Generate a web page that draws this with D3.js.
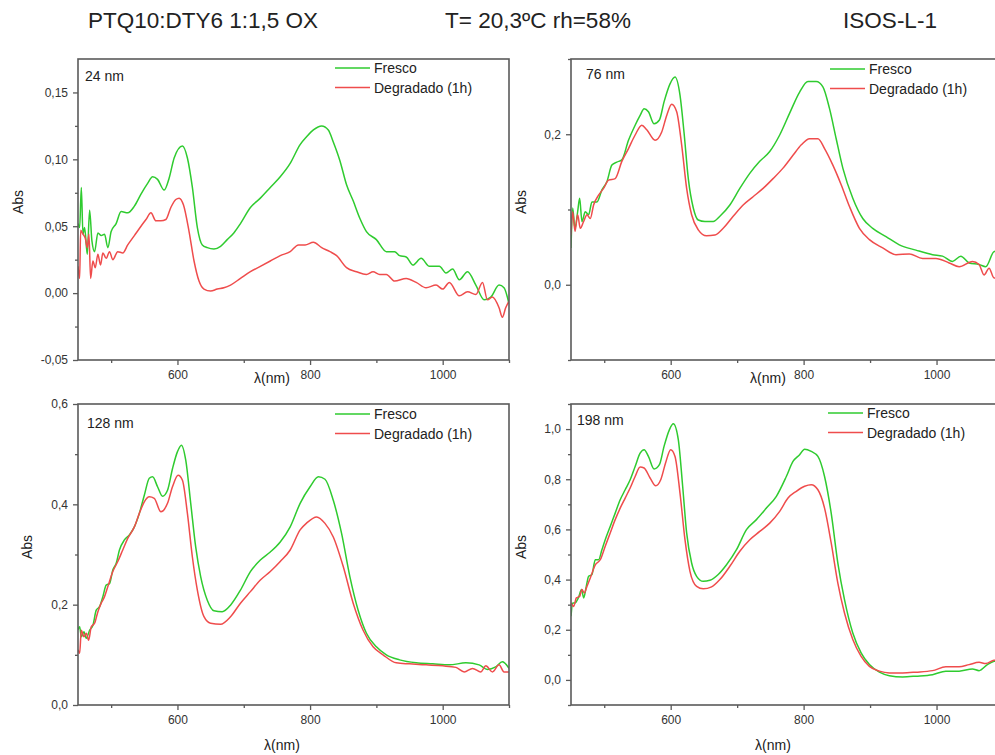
<!DOCTYPE html>
<html>
<head>
<meta charset="utf-8">
<script src="https://cdn.jsdelivr.net/npm/d3@7"></script>
<style>
  html, body { margin: 0; padding: 0; background: #fff; }
  svg { display: block; font-family: "Liberation Sans", Arial, sans-serif; }
</style>
</head>
<body>
<svg id="chart" width="995" height="755"></svg>
<script>
// UV-Vis absorbance spectra, fresh film vs. 1 h degraded, four thicknesses.

const titles = ["PTQ10:DTY6 1:1,5 OX", "T= 20,3ºC rh=58%", "ISOS-L-1"];
const seriesNames = ["Fresco", "Degradado (1h)"];
const thicknessLabels = ["24 nm", "76 nm", "128 nm", "198 nm"];
const xTicksMajor = [600, 800, 1000];
const xTicksMinor = [500, 700, 900, 1100];

// 24 nm
const lamFresco24 = [450,452.5,455,457.5,460,464,467.5,471,475,480,485,490,495,500,507.5,515,525,535,545,555,562.5,570,580,587.5,595,607.5,615,622.5,630,637.5,645,655,665,675,685,695,710,725,740,755,770,785,795,805,817.5,827.5,835,845,855,865,875,885,900,915,927.5,935,945,955,967.5,980,995,1005,1015,1025,1037.5,1050,1062.5,1072.5,1085,1092.5,1100];
const absFresco24 = [0.052,0.049,0.079,0.044,0.049,0.029,0.062,0.039,0.031,0.045,0.043,0.044,0.034,0.046,0.052,0.061,0.060,0.065,0.074,0.082,0.087,0.085,0.077,0.086,0.101,0.110,0.101,0.079,0.049,0.036,0.034,0.033,0.035,0.040,0.045,0.052,0.064,0.071,0.079,0.087,0.097,0.111,0.117,0.122,0.125,0.122,0.113,0.099,0.081,0.069,0.056,0.046,0.040,0.031,0.031,0.028,0.027,0.021,0.026,0.020,0.020,0.015,0.018,0.010,0.016,0.006,-0.005,-0.003,0.006,0.004,-0.008];
const lamDegr24 = [450,452.5,454,457.5,461,464,466.5,469,472.5,476,480,484,487.5,492.5,497.5,502.5,510,517.5,525,535,545,552.5,560,567.5,575,582.5,590,597.5,602.5,609,617.5,625,632.5,640,650,660,670,680,695,710,725,740,755,770,782.5,792.5,805,817.5,830,840,855,870,885,895,905,915,927.5,945,960,975,990,1000,1010,1025,1037.5,1050,1060,1067.5,1075,1085,1090,1095,1100];
const absDegr24 = [0.020,0.011,0.047,0.044,0.041,0.034,0.044,0.011,0.024,0.019,0.029,0.021,0.030,0.026,0.031,0.025,0.031,0.030,0.036,0.043,0.050,0.055,0.060,0.054,0.054,0.055,0.064,0.070,0.071,0.066,0.046,0.024,0.009,0.003,0.0015,0.003,0.004,0.006,0.011,0.016,0.020,0.024,0.028,0.031,0.036,0.036,0.038,0.034,0.031,0.028,0.019,0.016,0.014,0.016,0.014,0.014,0.009,0.011,0.008,0.004,0.006,0.003,0.008,-0.002,0.001,-0.001,0.008,-0.005,-0.003,-0.011,-0.018,-0.011,-0.006];

// 76 nm
const lamFresco76 = [450,452.5,456,460,463,466.5,471.5,476.5,481.5,489,496.5,504,511.5,519,526.5,536.5,546.5,554,560,566.5,575,583,590,599,606.5,614,620,626.5,634,641.5,651.5,664,674,689,704,719,734,749,764,779,794,806.5,819,829,839,849,859,874,889,904,924,944,969,994,1009,1024,1036.5,1049,1064,1074,1086.5,1100];
const absFresco76 = [0.049,0.102,0.075,0.097,0.115,0.084,0.097,0.093,0.110,0.110,0.126,0.137,0.159,0.163,0.166,0.192,0.212,0.225,0.234,0.230,0.214,0.219,0.243,0.267,0.276,0.252,0.203,0.141,0.102,0.086,0.084,0.084,0.091,0.106,0.128,0.148,0.164,0.177,0.199,0.228,0.256,0.270,0.270,0.263,0.234,0.194,0.155,0.115,0.088,0.075,0.064,0.053,0.046,0.040,0.038,0.031,0.038,0.029,0.027,0.024,0.044,0.046];
const lamDegr76 = [450,452.5,456,460,464,469,474,479,484,491.5,499,506.5,516.5,526.5,536.5,546.5,556.5,564,576.5,586.5,594,601.5,609,616.5,624,631.5,641.5,654,666.5,679,694,709,724,739,754,769,784,796.5,809,821.5,831.5,844,856.5,869,884,899,919,939,959,979,999,1019,1034,1054,1064,1071.5,1079,1086.5,1100];
const absDegr76 = [0.066,0.097,0.071,0.093,0.075,0.084,0.093,0.088,0.106,0.119,0.128,0.139,0.141,0.164,0.181,0.199,0.212,0.206,0.192,0.203,0.225,0.240,0.230,0.186,0.128,0.093,0.073,0.065,0.066,0.075,0.091,0.106,0.117,0.128,0.141,0.155,0.172,0.186,0.194,0.194,0.181,0.159,0.133,0.104,0.075,0.060,0.049,0.040,0.041,0.035,0.035,0.029,0.024,0.031,0.027,0.013,0.022,0.009,0.013];

// 128 nm
const lamFresco128 = [450,452.5,455,459,462.5,467.5,472.5,477.5,482.5,487.5,492.5,497.5,502.5,507.5,512.5,520,527.5,535,542.5,550,557.5,562.5,570,577.5,585,592.5,600,606,612.5,620,627.5,635,645,655,667.5,680,695,710,725,740,755,770,785,800,812.5,822.5,835,847.5,860,872.5,885,900,915,935,960,985,1010,1035,1055,1067.5,1080,1090,1100];
const absFresco128 = [0.150,0.156,0.136,0.146,0.133,0.149,0.159,0.189,0.196,0.216,0.239,0.242,0.269,0.282,0.309,0.329,0.339,0.355,0.382,0.418,0.452,0.455,0.435,0.416,0.428,0.471,0.505,0.518,0.488,0.402,0.315,0.256,0.209,0.188,0.186,0.199,0.229,0.266,0.289,0.305,0.325,0.355,0.402,0.435,0.455,0.450,0.408,0.342,0.256,0.189,0.143,0.116,0.100,0.090,0.084,0.082,0.080,0.084,0.080,0.071,0.076,0.086,0.073];
const lamDegr128 = [450,452.5,455,459,462.5,466,470,475,480,485,490,495,502.5,510,517.5,525,535,542.5,550,557.5,565,575,585,592.5,601,607.5,615,622.5,630,640,650,665,680,695,710,725,740,755,770,785,795,810,822.5,835,850,865,880,895,910,930,950,975,1000,1020,1032.5,1045,1057.5,1065,1075,1085,1092.5,1100];
const absDegr128 = [0.110,0.103,0.149,0.136,0.143,0.129,0.156,0.163,0.186,0.203,0.216,0.236,0.266,0.286,0.309,0.332,0.355,0.382,0.405,0.415,0.412,0.385,0.402,0.435,0.458,0.448,0.382,0.295,0.229,0.176,0.163,0.161,0.176,0.203,0.226,0.249,0.266,0.286,0.309,0.349,0.363,0.375,0.362,0.335,0.276,0.203,0.149,0.116,0.100,0.084,0.082,0.080,0.078,0.075,0.066,0.073,0.066,0.078,0.066,0.080,0.066,0.066];

// 198 nm
const lamFresco198 = [450,452.5,456,461,466,469,473,476.5,481.5,486.5,491.5,496.5,501.5,509,516.5,524,531.5,539,546.5,554,560,566.5,575,583,590,598,604,611.5,618,624,631.5,639,649,659,671.5,684,699,714,729,744,759,774,784,794,801.5,811.5,821.5,831.5,841.5,851.5,861.5,874,886.5,899,914,929,949,969,994,1014,1034,1054,1064,1076.5,1086.5,1100];
const absFresco198 = [0.254,0.307,0.307,0.327,0.360,0.327,0.373,0.413,0.420,0.479,0.479,0.519,0.559,0.612,0.665,0.718,0.758,0.798,0.851,0.904,0.918,0.891,0.841,0.858,0.931,0.997,1.021,0.957,0.772,0.586,0.466,0.413,0.393,0.397,0.420,0.459,0.519,0.599,0.639,0.685,0.732,0.811,0.871,0.898,0.920,0.911,0.891,0.811,0.665,0.466,0.320,0.187,0.108,0.061,0.031,0.017,0.012,0.015,0.021,0.035,0.035,0.044,0.037,0.061,0.074,0.078];
const lamDegr198 = [450,454,458,463,466.5,470,474,479,486.5,494,501.5,509,516.5,524,531.5,539,546.5,554,560,569,577.5,585,592.5,600,606.5,614,621.5,629,639,649,661.5,674,689,704,719,734,749,764,776.5,789,801.5,811.5,821.5,831.5,841.5,851.5,861.5,874,886.5,899,914,929,949,969,994,1014,1034,1049,1064,1074,1086.5,1100];
const absDegr198 = [0.307,0.293,0.327,0.333,0.360,0.347,0.373,0.406,0.459,0.479,0.533,0.586,0.639,0.685,0.725,0.765,0.811,0.849,0.845,0.805,0.774,0.798,0.867,0.918,0.891,0.745,0.559,0.433,0.373,0.363,0.371,0.400,0.453,0.513,0.559,0.592,0.625,0.672,0.725,0.752,0.772,0.778,0.758,0.685,0.546,0.386,0.267,0.161,0.094,0.054,0.035,0.028,0.028,0.031,0.037,0.052,0.052,0.061,0.070,0.065,0.078,0.080];

const colors = { fresco: "#2fcb2f", degr: "#ef4c4c" };
const frameColor = "#5a5a5a";
const textColor = "#222";

const fmt2 = v => d3.format(".2f")(v).replace(".", ",").replace("−", "-");
const fmt1 = v => d3.format(".1f")(v).replace(".", ",").replace("−", "-");

// Panel layout and per-panel axis settings
const panels = [
  { x0: 78, x1: 509, y0: 59, y1: 360, yDomain: [-0.05, 0.175],
    yMajor: [-0.05, 0, 0.05, 0.10, 0.15], yMinor: [-0.025, 0.025, 0.075, 0.125],
    fmt: fmt2, lam: [lamFresco24, lamDegr24], abs: [absFresco24, absDegr24],
    label: thicknessLabels[0], labelPos: [7, 22], absPos: [18, 202], lamPos: [272, 383],
    legendDx: 257, legendDy: 9 },
  { x0: 571, x1: 1003, y0: 59, y1: 360, yDomain: [-0.1, 0.3],
    yMajor: [0, 0.2], yMinor: [-0.1, 0.1, 0.3],
    fmt: fmt1, lam: [lamFresco76, lamDegr76], abs: [absFresco76, absDegr76],
    label: thicknessLabels[1], labelPos: [15, 20], absPos: [521, 202], lamPos: [768, 383],
    legendDx: 259, legendDy: 10 },
  { x0: 78, x1: 509, y0: 404, y1: 705, yDomain: [0, 0.6],
    yMajor: [0, 0.2, 0.4, 0.6], yMinor: [0.1, 0.3, 0.5],
    fmt: fmt1, lam: [lamFresco128, lamDegr128], abs: [absFresco128, absDegr128],
    label: thicknessLabels[2], labelPos: [9, 24], absPos: [27, 547], lamPos: [282, 750],
    legendDx: 257, legendDy: 10 },
  { x0: 571, x1: 1003, y0: 404, y1: 705, yDomain: [-0.1, 1.1],
    yMajor: [0, 0.2, 0.4, 0.6, 0.8, 1.0], yMinor: [-0.1, 0.1, 0.3, 0.5, 0.7, 0.9, 1.1],
    fmt: fmt1, lam: [lamFresco198, lamDegr198], abs: [absFresco198, absDegr198],
    label: thicknessLabels[3], labelPos: [6, 21], absPos: [521, 547], lamPos: [773, 750],
    legendDx: 257, legendDy: 9 }
];

const svg = d3.select("#chart");

// Header (centred on each heading's slot)
const titleCx = [203, 538, 890];
titles.forEach((t, i) => {
  svg.append("text").attr("x", titleCx[i]).attr("y", 28)
    .attr("text-anchor", "middle")
    .attr("font-size", 22.5).attr("fill", textColor).text(t);
});

panels.forEach((p, idx) => {
  const x = d3.scaleLinear().domain([450, 1100]).range([p.x0, p.x1]);
  const y = d3.scaleLinear().domain(p.yDomain).range([p.y1, p.y0]);
  const g = svg.append("g");

  const clipId = "clip" + idx;
  g.append("clipPath").attr("id", clipId).append("rect")
    .attr("x", p.x0).attr("y", p.y0).attr("width", p.x1 - p.x0).attr("height", p.y1 - p.y0);

  // spectra
  const line = d3.line().x(d => x(d[0])).y(d => y(d[1])).curve(d3.curveMonotoneX);
  const seriesColors = [colors.fresco, colors.degr];
  [0, 1].forEach(s => {
    const pts = p.lam[s].map((l, i) => [l, p.abs[s][i]]);
    g.append("path").datum(pts)
      .attr("clip-path", `url(#${clipId})`)
      .attr("d", line).attr("fill", "none")
      .attr("stroke", seriesColors[s]).attr("stroke-width", 1.5)
      .attr("stroke-linejoin", "round");
  });

  // frame
  g.append("rect").attr("x", p.x0).attr("y", p.y0)
    .attr("width", p.x1 - p.x0).attr("height", p.y1 - p.y0)
    .attr("fill", "none").attr("stroke", frameColor).attr("stroke-width", 1.6);

  // bottom axis
  const xAxis = g.append("g").attr("transform", `translate(0,${p.y1})`)
    .call(d3.axisBottom(x).tickValues(xTicksMajor).tickSize(5).tickPadding(5).tickFormat(d3.format("d")));
  const xMinor = g.append("g").attr("transform", `translate(0,${p.y1})`)
    .call(d3.axisBottom(x).tickValues(xTicksMinor).tickSize(3).tickFormat(""));

  // left axis
  const yAxis = g.append("g").attr("transform", `translate(${p.x0},0)`)
    .call(d3.axisLeft(y).tickValues(p.yMajor).tickSize(5).tickPadding(5).tickFormat(p.fmt));
  const yMinor = g.append("g").attr("transform", `translate(${p.x0},0)`)
    .call(d3.axisLeft(y).tickValues(p.yMinor).tickSize(3).tickFormat(""));

  [xAxis, xMinor, yAxis, yMinor].forEach(a => {
    a.select(".domain").remove();
    a.selectAll("line").attr("stroke", frameColor).attr("stroke-width", 1.3);
    a.selectAll("text").attr("font-size", 12).attr("fill", "#333")
      .attr("font-family", "'Liberation Sans', Arial, sans-serif");
  });

  // thickness label
  g.append("text").attr("x", p.x0 + p.labelPos[0]).attr("y", p.y0 + p.labelPos[1])
    .attr("font-size", 14).attr("fill", textColor).text(p.label);

  // legend
  seriesNames.forEach((name, s) => {
    const ly = p.y0 + p.legendDy + s * 19.5;
    g.append("line").attr("x1", p.x0 + p.legendDx).attr("x2", p.x0 + p.legendDx + 35)
      .attr("y1", ly).attr("y2", ly)
      .attr("stroke", seriesColors[s]).attr("stroke-width", 1.5);
    g.append("text").attr("x", p.x0 + p.legendDx + 39).attr("y", ly + 5)
      .attr("font-size", 14).attr("fill", textColor).text(name);
  });

  // axis titles
  g.append("text")
    .attr("transform", `translate(${p.absPos[0]},${p.absPos[1]}) rotate(-90)`)
    .attr("text-anchor", "middle").attr("dy", "0.35em")
    .attr("font-size", 14).attr("fill", textColor).text("Abs");
  g.append("text").attr("x", p.lamPos[0]).attr("y", p.lamPos[1])
    .attr("text-anchor", "middle").attr("font-size", 14).attr("fill", textColor)
    .text("λ(nm)");
});
</script>
</body>
</html>
